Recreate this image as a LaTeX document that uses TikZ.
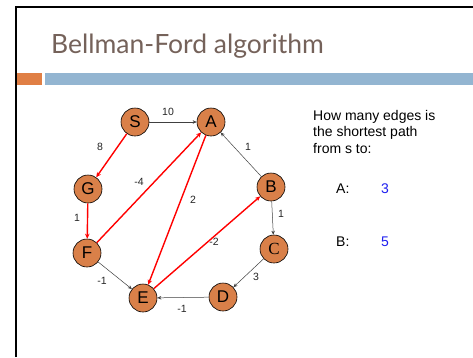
\documentclass[tikz,border=0pt]{standalone}
\usepackage{fontspec}
\setmainfont{Liberation Sans}
\newfontfamily\titlefont{Lato}
\usetikzlibrary{arrows.meta}
\definecolor{nodeor}{RGB}{217,128,73}
\definecolor{baror}{RGB}{224,127,69}
\definecolor{barbl}{RGB}{147,181,209}
\definecolor{titlec}{RGB}{117,98,90}
\definecolor{ansblue}{RGB}{30,30,240}
\begin{document}
\begin{tikzpicture}[x=1pt,y=-1pt,
  vtx/.style={circle,draw=black,line width=0.6pt,fill=nodeor,minimum size=28pt,inner sep=0pt,font=\fontsize{17}{17}\selectfont},
  blk/.style={draw=black!75,line width=0.5pt,-{Stealth[length=4pt,width=3.5pt]}},
  redge/.style={draw=red,line width=1.4pt,-{Stealth[length=5pt,width=4.5pt]}},
  wl/.style={font=\fontsize{10.5}{10.5}\selectfont,text=black!85,inner sep=0pt},
  qt/.style={font=\fontsize{14}{16.5}\selectfont,inner sep=0pt,anchor=base west}]
\useasboundingbox (0,0) rectangle (473,357);
\fill[white] (0,0) rectangle (473,357);
% frame
\draw[line width=2pt] (16,357) -- (16,7) -- (473,7);
% title
\node[anchor=base west,inner sep=0pt,text=titlec,font=\titlefont\fontsize{26.5}{26.5}\selectfont] (title) at (51,53) {Bellman-Ford algorithm};
% bars
\fill[baror] (17,73) rectangle (42,85);
\fill[barbl] (45,73) rectangle (473,85);
% nodes
\node[vtx] (S) at (135,122) {S};
\node[vtx] (A) at (211,122) {A};
\node[vtx] (G) at (88,189) {G};
\node[vtx] (B) at (271,187) {B};
\node[vtx] (F) at (87,253) {F};
\node[vtx] (C) at (274,249) {\fontspec{Liberation Serif}C};
\node[vtx] (E) at (143,298) {E};
\node[vtx] (D) at (223,297) {D};
% black edges
\draw[blk] (S) -- (A);
\draw[blk] (B) -- (A);
\draw[blk] (B) -- (C);
\draw[blk] (C) -- (D);
\draw[blk] (D) -- (E);
\draw[blk] (F) -- (E);
% red edges
\draw[redge] (S) -- (G);
\draw[redge] (G) -- (F);
\draw[redge] (F) -- (A);
\draw[redge] (A) -- (E);
\draw[redge] (E) -- (B);
% weights
\node[wl] (w1) at (168,112) {10};
\node[wl] (w2) at (100,147) {8};
\node[wl] (w3) at (139,182) {-4};
\node[wl] (w4) at (193,200) {2};
\node[wl] (w5) at (248,147) {1};
\node[wl] (w6) at (77,218) {1};
\node[wl] (w7) at (281,214) {1};
\node[wl] (w8) at (214,242) {-2};
\node[wl] (w9) at (256,277) {3};
\node[wl] (w10) at (102,281) {-1};
\node[wl] (w11) at (182,309) {-1};
% question text
\node[qt,align=left,anchor=north west] (q) at (313,110) {How many edges is\\the shortest path\\from s to:};
\node[qt] (qa) at (336,193) {A:};
\node[qt,text=ansblue] (qa3) at (381,193) {3};
\node[qt] (qb) at (336,246) {B:};
\node[qt,text=ansblue] (qb5) at (381,246) {5};
\end{tikzpicture}
\end{document}
